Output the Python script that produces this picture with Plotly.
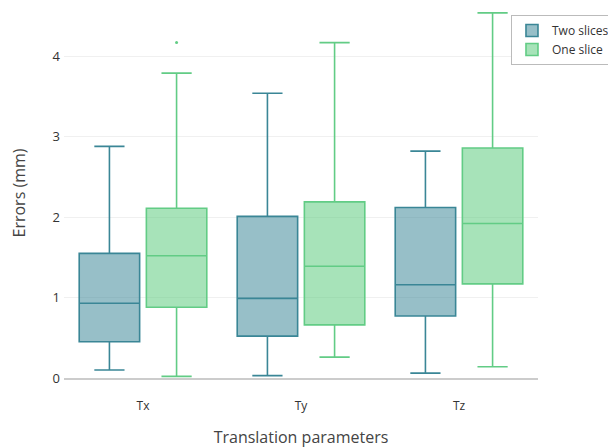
import plotly.graph_objects as go

categories = ["Tx", "Ty", "Tz"]

two_lower = [0.10, 0.03, 0.06]
two_q1 = [0.45, 0.52, 0.77]
two_median = [0.93, 0.99, 1.16]
two_q3 = [1.55, 2.01, 2.12]
two_upper = [2.88, 3.54, 2.82]

one_lower = [0.02, 0.26, 0.14]
one_q1 = [0.88, 0.66, 1.17]
one_median = [1.52, 1.39, 1.92]
one_q3 = [2.11, 2.19, 2.86]
one_upper = [3.79, 4.17, 4.54]
one_outliers = [[4.17], [], []]

fig = go.Figure()
fig.add_trace(go.Box(
    name="Two slices", x=categories,
    q1=two_q1, median=two_median, q3=two_q3,
    lowerfence=two_lower, upperfence=two_upper,
    fillcolor="rgba(47,127,145,0.5)",
    line=dict(color="#3a8696", width=1.6),
    whiskerwidth=0.5, boxpoints=False,
))
fig.add_trace(go.Box(
    name="One slice", x=categories,
    q1=one_q1, median=one_median, q3=one_q3,
    lowerfence=one_lower, upperfence=one_upper,
    y=one_outliers,
    fillcolor="rgba(80,200,115,0.5)",
    line=dict(color="#62cc85", width=1.6),
    marker=dict(color="#62cc85", size=3),
    whiskerwidth=0.5, boxpoints="outliers",
))

# the page has an 8px body margin, so the figure is sized to the remaining space
fig.update_layout(
    width=608, height=440,
    margin=dict(l=56, r=78, t=0, b=70, autoexpand=False),
    paper_bgcolor="white", plot_bgcolor="white",
    font=dict(family="Open Sans", color="#333"),
    boxmode="group", boxgap=0.15, boxgroupgap=0.1,
    legend=dict(x=0.943, y=0.981, xanchor="left", yanchor="top",
                bordercolor="#bbb", borderwidth=1, font=dict(size=12),
                bgcolor="white", tracegroupgap=0, itemwidth=30),
)
fig.update_xaxes(
    title=dict(text="Translation parameters", font=dict(size=16, color="#444"), standoff=20),
    tickfont=dict(size=12, color="#333"), ticklabelstandoff=16,
    showline=True, linecolor="#ccc", linewidth=2,
    ticks="", showgrid=False,
)
fig.update_yaxes(
    title=dict(text="Errors (mm)", font=dict(size=16, color="#444"), standoff=24),
    range=[0, 4.6], dtick=1, tickfont=dict(size=13, color="#333"),
    ticklabelstandoff=3,
    showgrid=True, gridcolor="#f0f0f0", gridwidth=1,
    zeroline=False, showline=False,
)

fig.write_html("out.html")
